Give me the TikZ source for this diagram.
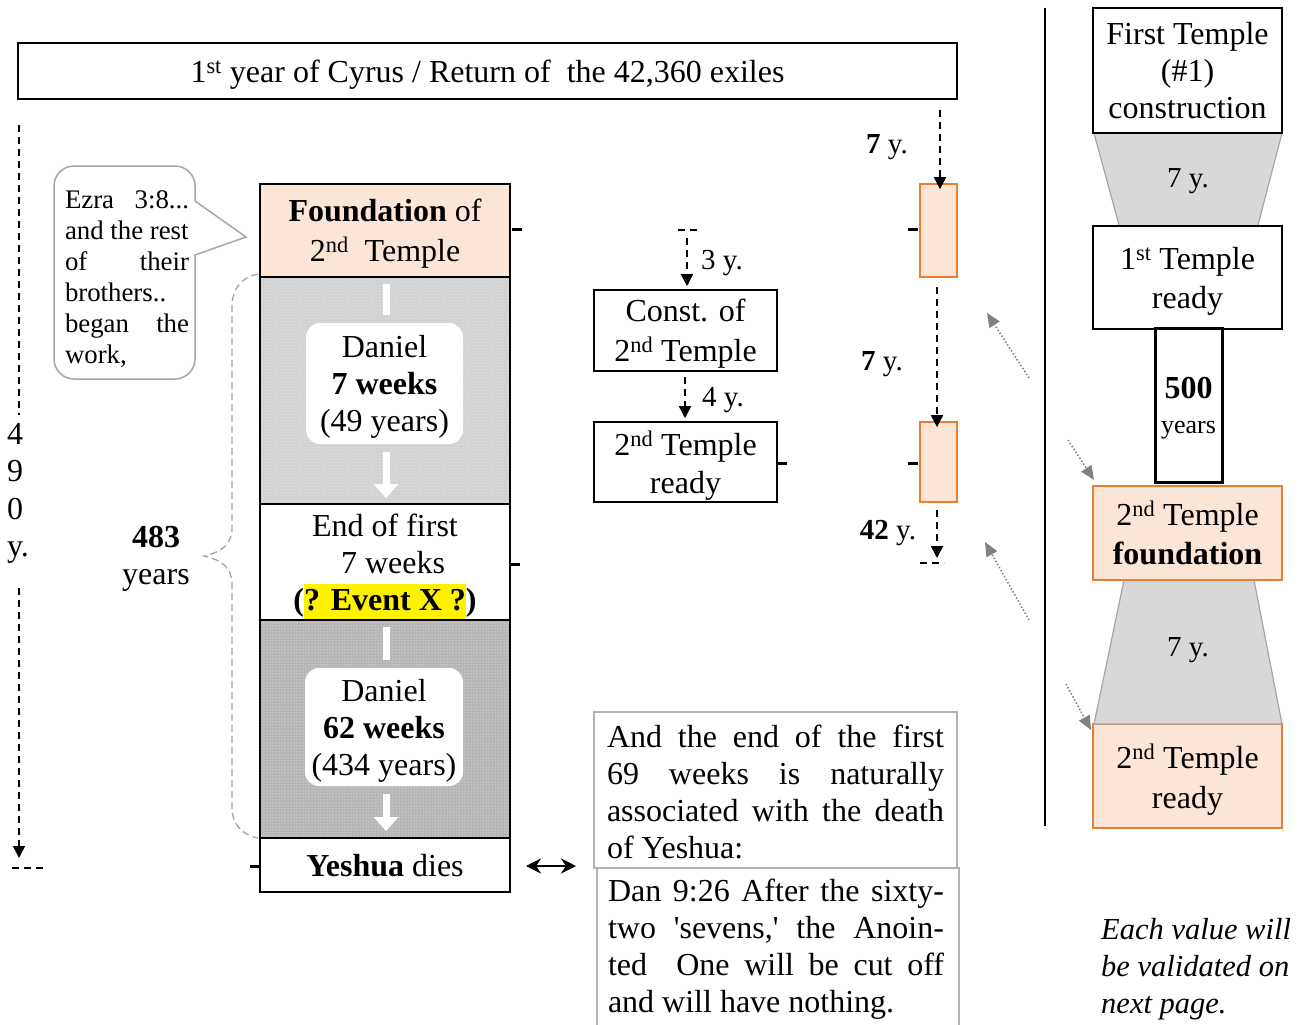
\documentclass[tikz,border=0pt]{standalone}
\usepackage{fontspec}
\setmainfont{Liberation Serif}
\usetikzlibrary{arrows.meta,patterns}
\definecolor{peach}{HTML}{FBE5D6}
\definecolor{orng}{HTML}{ED7D31}
\definecolor{trapgray}{HTML}{D8D8D8}
\newcommand\fsz[2]{\fontsize{#1}{#2}\selectfont}
\begin{document}
\begin{tikzpicture}[x=1pt,y=-1pt,
  box/.style={draw=black, line width=1.6, inner sep=0, align=center, text depth=0pt, font=\fsz{32}{38}},
  obox/.style={box, draw=orng, fill=peach},
  lbl/.style={inner sep=0, align=center, text depth=0pt, font=\fsz{32}{38}},
  ylbl/.style={inner sep=0, font=\fsz{29}{34}},
  darrow/.style={dash pattern=on 7pt off 5pt, line width=1.6, -{Triangle[length=12,width=12]}},
  dline/.style={dash pattern=on 7pt off 5pt, line width=1.6},
  tickmark/.style={line width=3},
  garrow/.style={gray, dotted, line width=1.5, -{Triangle[length=14,width=12]}},
  warrow/.style={white, line width=7},
  innerw/.style={fill=white, rounded corners=14, inner sep=0, align=center, text depth=0pt, font=\fsz{32}{37}},
]
\useasboundingbox[fill=white] (0,0) rectangle (1312,1025);

% top bar
\node[box, minimum width=939, minimum height=56] (cyrus) at (487.5,71)
  {1\textsuperscript{st} year of Cyrus / Return of\ \ the 42,360 exiles};

% left 490 y. arrow
\coordinate (l1) at (19,125); \coordinate (l2) at (19,415);
\coordinate (l3) at (19,588); \coordinate (l4) at (19,858);
\draw[dline] (l1) -- (l2);
\draw[darrow] (l3) -- (l4);
\node[lbl, align=left, font=\fsz{32}{37.5}] (n490) at (18,490) {4\\9\\0\\y.};
\coordinate (lb1) at (12,868); \coordinate (lb2) at (44,868);
\draw[dline] (lb1) -- (lb2);

% callout
\draw[draw=gray!70, fill=white, line width=1.5]
  (195,201) -- (195,186) .. controls (195,175) and (186,166) .. (175,166) -- (74,166)
  .. controls (63,166) and (54,175) .. (54,186) -- (54,359)
  .. controls (54,370) and (63,379) .. (74,379) -- (175,379)
  .. controls (186,379) and (195,370) .. (195,359) -- (195,255) -- (246,237) -- cycle;
\node[inner sep=0, align=left, text depth=0pt, font=\fsz{26.8}{31}] (ezra) at (127,277)
  {\hbox to 124pt{Ezra\hfill 3:8...}\\
   and the rest\\
   \hbox to 124pt{of\hfill their}\\
   brothers..\\
   \hbox to 124pt{began\hfill the}\\
   work,};

% central column
\node[box, fill=peach, minimum width=250, minimum height=93, font=\fsz{32}{40}] (found) at (385,230.5)
  {\textbf{Foundation} of\\2\textsuperscript{nd}\ \ Temple};
\node[draw=black, line width=1.6, minimum width=250, minimum height=227, inner sep=0,
  preaction={fill=gray!36}, pattern=crosshatch dots, pattern color=white!80!gray] (p1) at (385,390.5) {};
\node[box, fill=white, minimum width=250, minimum height=116, font=\fsz{32}{37}] (endb) at (385,562)
  {End of first\\\ \ 7 weeks\\\textbf{(}{\setlength\fboxsep{0pt}\colorbox{yellow}{\rule[-10pt]{0pt}{36pt}\textbf{? Event X ?}}}\textbf{)}};
\node[draw=black, line width=1.6, minimum width=250, minimum height=218, inner sep=0,
  preaction={fill=gray!58}, pattern=dots, pattern color=white] (p2) at (385,729) {};
\node[box, fill=white, minimum width=250, minimum height=54] (yesh) at (385,865)
  {\textbf{Yeshua} dies};

% inner white boxes and arrows
\coordinate (w1a) at (386,284); \coordinate (w1b) at (386,315);
\draw[warrow] (w1a) -- (w1b);
\node[innerw, minimum width=157, minimum height=121] (d1) at (384.5,383.5)
  {Daniel\\\textbf{7 weeks}\\(49 years)};
\coordinate (w1c) at (386,452); \coordinate (w1d) at (386,498);
\draw[warrow, -{Triangle[length=14,width=24]}] (w1c) -- (w1d);

\coordinate (w2a) at (386,627); \coordinate (w2b) at (386,660);
\draw[warrow] (w2a) -- (w2b);
\node[innerw, minimum width=158, minimum height=118] (d2) at (384,727)
  {Daniel\\\textbf{62 weeks}\\(434 years)};
\coordinate (w2c) at (386,794); \coordinate (w2d) at (386,831);
\draw[warrow, -{Triangle[length=14,width=24]}] (w2c) -- (w2d);

% brace
\draw[gray!70, dash pattern=on 7pt off 4pt, line width=1.3]
  (258,274) .. controls (241,277) and (232,290) .. (232,306) -- (232,528)
  .. controls (232,544) and (222,552) .. (204,556)
  .. controls (222,560) and (232,568) .. (232,584) -- (232,808)
  .. controls (232,824) and (242,835) .. (258,838);
\node[lbl, font=\fsz{32}{37}] (n483) at (156,555) {\textbf{483}\\years};

% ticks
\coordinate (t1a) at (512,229); \coordinate (t1b) at (522,229);
\draw[tickmark] (t1a) -- (t1b);
\coordinate (t2a) at (510,564); \coordinate (t2b) at (520,564);
\draw[tickmark] (t2a) -- (t2b);
\coordinate (t3a) at (250,866); \coordinate (t3b) at (260,866);
\draw[tickmark] (t3a) -- (t3b);

% double arrow
\coordinate (da1) at (526,866); \coordinate (da2) at (576,866);
\draw[line width=2.5, {Stealth[length=15,width=15]}-{Stealth[length=15,width=15]}] (da1) -- (da2);

% middle column
\coordinate (m0a) at (678,230); \coordinate (m0b) at (700,230);
\draw[dline] (m0a) -- (m0b);
\node[box, minimum width=183, minimum height=81, font=\fsz{32}{40}] (const) at (685.5,330.5)
  {Const. of\\2\textsuperscript{nd} Temple};
\node[box, minimum width=183, minimum height=80] (ready2) at (685.5,462)
  {2\textsuperscript{nd} Temple\\ready};
\coordinate (m1) at (687,238);
\draw[darrow] (m1) -- ([yshift=3pt]const.north -| m1);
\node[ylbl] (y3) at (722,263) {3 y.};
\coordinate (m2) at (685,377);
\draw[darrow] (m2) -- ([yshift=3pt]ready2.north -| m2);
\node[ylbl] (y4) at (723,400) {4 y.};
\coordinate (t4a) at (777,463); \coordinate (t4b) at (787,463);
\draw[tickmark] (t4a) -- (t4b);

% text boxes
\node[draw=gray!60, line width=1.3, minimum width=363, minimum height=156, inner sep=0] (txa) at (775.5,790) {};
\node[inner sep=0, align=left, text depth=0pt, font=\fsz{32}{37}] (txat) at (775.5,792)
  {\hbox to 337pt{And\hfill the\hfill end\hfill of\hfill the\hfill first}\\
   \hbox to 337pt{69\hfill weeks\hfill is\hfill naturally}\\
   \hbox to 337pt{associated\hfill with\hfill the\hfill death}\\
   of Yeshua:};
\coordinate (bx1) at (597,1030); \coordinate (bx2) at (597,868);
\coordinate (bx3) at (959,868); \coordinate (bx4) at (959,1030);
\draw[gray!60, line width=1.3] (bx1) -- (bx2) -- (bx3) -- (bx4);
\node[inner sep=0, align=left, text depth=0pt, font=\fsz{32}{37}] (txbt) at (776,946)
  {\hbox to 336pt{Dan\hfill 9:26\hfill After\hfill the\hfill sixty-}\\
   \hbox to 336pt{two\hfill \textquotesingle sevens,\textquotesingle\hfill the\hfill Anoin-}\\
   \hbox to 336pt{ted\hfill\hfill One\hfill will\hfill be\hfill cut\hfill off}\\
   and will have nothing.};

% narrow orange boxes
\node[obox, minimum width=37, minimum height=93] (r1) at (938.5,230.5) {};
\node[obox, minimum width=37, minimum height=80] (r2) at (938.5,462) {};
\coordinate (ra) at (940,110);
\draw[darrow] (ra) -- ([yshift=-6pt]r1.north -| ra);
\node[ylbl] (y7a) at (887,147) {\textbf{7} y.};
\coordinate (rb) at (937,287);
\draw[darrow] (rb) -- ([yshift=-6pt]r2.north -| rb);
\node[ylbl] (y7b) at (882,364) {\textbf{7} y.};
\coordinate (rc) at (937,510); \coordinate (rd) at (937,558);
\draw[darrow] (rc) -- (rd);
\node[ylbl] (y42) at (888,533) {\textbf{42} y.};
\coordinate (re1) at (920,563); \coordinate (re2) at (944,563);
\draw[dline] (re1) -- (re2);
\coordinate (t5a) at (908,229); \coordinate (t5b) at (918,229);
\draw[tickmark] (t5a) -- (t5b);
\coordinate (t6a) at (908,463); \coordinate (t6b) at (918,463);
\draw[tickmark] (t6a) -- (t6b);

% dotted arrows
\coordinate (g1a) at (1029,378); \coordinate (g1b) at (987,313);
\draw[garrow] (g1a) -- (g1b);
\coordinate (g2a) at (1068,440); \coordinate (g2b) at (1094,480);
\draw[garrow] (g2a) -- (g2b);
\coordinate (g3a) at (1029,620); \coordinate (g3b) at (985,542);
\draw[garrow] (g3a) -- (g3b);
\coordinate (g4a) at (1066,684); \coordinate (g4b) at (1091,730);
\draw[garrow] (g4a) -- (g4b);

% separator
\coordinate (sv1) at (1045,8); \coordinate (sv2) at (1045,826);
\draw[line width=1.5] (sv1) -- (sv2);

% right column
\fill[trapgray] (1095,134) -- (1281,134) -- (1258,225) -- (1119,225) -- cycle;
\draw[gray!70, line width=1.2] (1094,133) -- (1119,225) (1282,133) -- (1258,225);
\node[box, minimum width=189, minimum height=125, font=\fsz{32}{37}] (ft) at (1187.5,70.5)
  {First Temple\\(\#1)\\construction};
\node[box, minimum width=189, minimum height=103, font=\fsz{32}{39}] (ftr) at (1187.5,277.5)
  {1\textsuperscript{st} Temple\\ready};
\node[ylbl] (y7c) at (1188,181) {7 y.};
\node[box, line width=3, minimum width=67, minimum height=154] (five) at (1188.5,405)
  {\textbf{500}\\[-3pt]{\fsz{26}{30}years}};
\node[obox, minimum width=189, minimum height=94, font=\fsz{32}{39}] (sf) at (1187.5,533)
  {2\textsuperscript{nd} Temple\\\textbf{foundation}};
\node[obox, minimum width=189, minimum height=104, font=\fsz{32}{40}] (sr) at (1187.5,776)
  {2\textsuperscript{nd} Temple\\ready};
\fill[trapgray] (1124,581) -- (1254,581) -- (1282,724) -- (1094,724) -- cycle;
\draw[gray!70, line width=1.2] (1124,580) -- (1094,724) -- (1282,724) -- (1254,580);
\node[ylbl] (y7d) at (1188,650) {7 y.};

\node[inner sep=0, align=left, text depth=0pt, font=\fsz{30.5}{37}\itshape, anchor=west] (note) at (1101,966)
  {Each value will\\be validated on\\next page.};
\end{tikzpicture}
\end{document}
